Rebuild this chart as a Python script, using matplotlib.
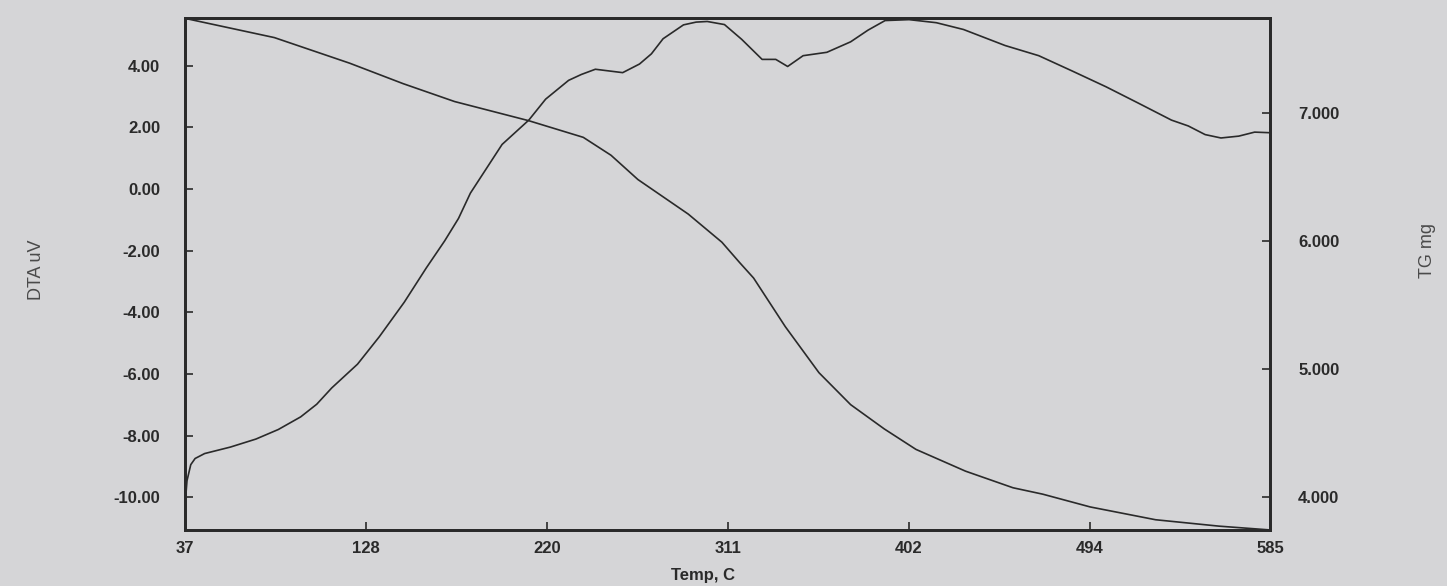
import matplotlib.pyplot as plt
import numpy as np

# DTA curve (left axis, uV)
dta_temp = [37, 37.9, 39.8, 42, 46.8, 59.8, 72.7, 84, 95.3, 103.4, 111, 124, 135, 147.6,
            158.7, 168, 175, 181, 197, 210.5, 219, 230.6, 237, 244.1, 257.9, 266.4, 272.4,
            278.3, 288.6, 295, 300.6, 309.3, 318, 328.3, 335.2, 341.2, 349, 361, 373,
            381.8, 390.4, 402.5, 416.3, 430, 451, 468, 485, 502, 518, 535, 543.5, 552,
            560, 569, 577, 585]
dta_uv = [-10.2, -9.46, -8.94, -8.74, -8.58, -8.37, -8.11, -7.80, -7.39, -6.98, -6.45,
          -5.68, -4.79, -3.67, -2.56, -1.68, -0.95, -0.13, 1.45, 2.24, 2.92, 3.53, 3.72,
          3.89, 3.78, 4.06, 4.39, 4.88, 5.33, 5.42, 5.44, 5.34, 4.86, 4.21, 4.21, 3.98,
          4.33, 4.44, 4.78, 5.16, 5.47, 5.50, 5.40, 5.18, 4.66, 4.33, 3.83, 3.32, 2.80,
          2.24, 2.05, 1.77, 1.66, 1.72, 1.85, 1.83]

# TG curve (right axis, mg)
tg_temp = [37, 82, 120, 147, 173, 210.5, 238, 252, 265.6, 291, 308, 317, 324, 340, 357,
           373, 390, 406, 431, 455, 470, 494, 527, 559, 585]
tg_mg = [7.74, 7.59, 7.39, 7.23, 7.09, 6.94, 6.81, 6.67, 6.48, 6.21, 5.99, 5.83, 5.71, 5.33,
         4.97, 4.72, 4.53, 4.37, 4.20, 4.07, 4.02, 3.92, 3.82, 3.77, 3.74]

x_ticks = np.linspace(37, 585, 7)
x_labels = ['37', '128', '220', '311', '402', '494', '585']
dta_ticks = [4, 2, 0, -2, -4, -6, -8, -10]
tg_ticks = [7, 6, 5, 4]

paper = '#d5d5d7'
ink = '#2a2a2a'
plt.rcParams['font.family'] = ['Liberation Sans', 'DejaVu Sans']

fig = plt.figure(figsize=(14.47, 5.86), dpi=100, facecolor=paper)
ax = fig.add_axes([0.128, 0.0956, 0.75, 0.873], facecolor=paper)
ax2 = ax.twinx()

ax.plot(dta_temp, dta_uv, color=ink, lw=1.2, solid_joinstyle='round')
ax2.plot(tg_temp, tg_mg, color=ink, lw=1.2, solid_joinstyle='round')

ax.set_xlim(37, 585)
ax.set_ylim(-11.06, 5.54)
ax2.set_ylim(3.74, 7.74)

ax.set_xticks(x_ticks)
ax.set_xticklabels(x_labels)
ax.set_yticks(dta_ticks)
ax.set_yticklabels([f'{v:.2f}' for v in dta_ticks])
ax2.set_yticks(tg_ticks)
ax2.set_yticklabels([f'{v:.3f}' for v in tg_ticks])

for a in (ax, ax2):
    for s in a.spines.values():
        s.set_color(ink)
        s.set_linewidth(2)
ax.tick_params(axis='x', direction='in', length=6, width=1.2, colors=ink, pad=8,
               labelsize=12)
ax.tick_params(axis='y', direction='in', length=6, width=1.2, colors=ink, pad=18,
               labelsize=12)
ax2.tick_params(axis='y', direction='in', length=6, width=1.2, colors=ink, pad=20,
                labelsize=12)
for lab in ax.get_xticklabels() + ax.get_yticklabels() + ax2.get_yticklabels():
    lab.set_fontweight('bold')

ax.set_xlabel('Temp, C', fontsize=12, fontweight='bold', color=ink)
ax.xaxis.set_label_coords(0.477, -0.074)
ax.set_ylabel('DTA uV', fontsize=13, color='#4a4a4a')
ax.yaxis.set_label_coords(-0.129, 0.508)
ax2.set_ylabel('TG mg', fontsize=13, color='#4a4a4a', rotation=90)
ax2.yaxis.set_label_coords(1.137, 0.547)

fig.savefig('out.png', dpi=100, facecolor=paper)
